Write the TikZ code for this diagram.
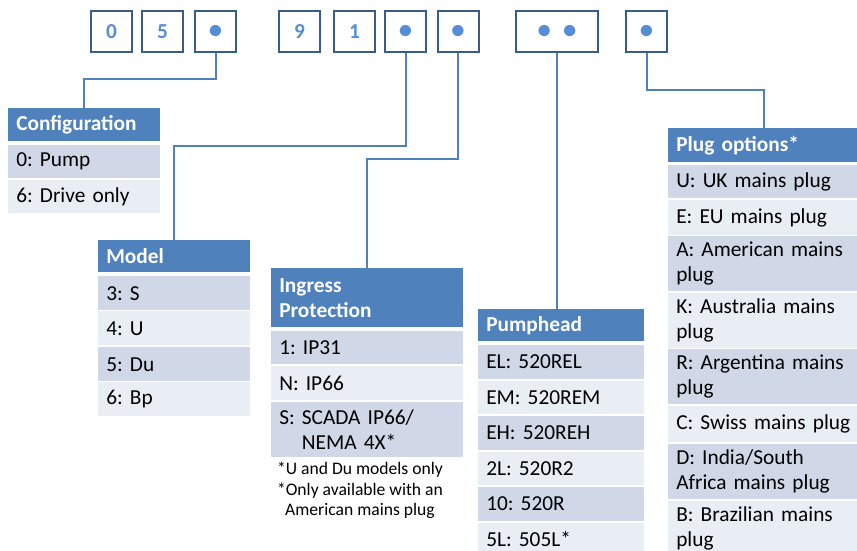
\documentclass[tikz,border=0pt]{standalone}
\usepackage{fontspec}
\setmainfont{Carlito}
\usetikzlibrary{calc,positioning}
\definecolor{boxblue}{HTML}{385D8A}
\definecolor{digitblue}{HTML}{558ED5}
\definecolor{lineblue}{HTML}{4F81BD}
\definecolor{headblue}{HTML}{4F81BD}
\definecolor{rowdark}{HTML}{D0D8E8}
\definecolor{rowlight}{HTML}{E9EDF4}
\newcommand{\punto}{{\fontsize{20}{20}\selectfont •}}
\frenchspacing

\begin{document}
\begin{tikzpicture}[x=0.75pt,y=-0.75pt,
	caja/.style={draw=boxblue,line width=1.5pt,minimum width=30.75pt,minimum height=30.75pt,inner sep=0pt,text height=10.3pt,text depth=0pt,text=digitblue,font=\bfseries\fontsize{16}{18}\selectfont},
	celda/.style 2 args={anchor=north west,inner xsep=6pt,inner ysep=0pt,text width=#1,minimum height=#2,align=left,font=\fontsize{16}{18.75}\selectfont},
	cabeza/.style={fill=headblue,text=white,font=\bfseries\fontsize{16}{18.75}\selectfont},
	oscura/.style={fill=rowdark},
	clara/.style={fill=rowlight},
	linea/.style={draw=lineblue,line width=1.5pt}]
	\useasboundingbox (0,0) rectangle (857,550);
	\clip (0,0) rectangle (857,550);
	\path
	(111.5,31.5) node(d1)[caja]{0}
	(162.5,31.5) node(d2)[caja]{5}
	(215.5,31.5) node(d3)[caja]{\punto}
	(299.5,31.5) node(d4)[caja]{9}
	(354.5,31.5) node(d5)[caja]{1}
	(405.5,31.5) node(d6)[caja]{\punto}
	(458,31.5) node(d7)[caja]{\punto}
	(557,31.5) node(d8)[caja,minimum width=61.5pt]{\punto\hspace{9pt}\punto}
	(646.5,31.5) node(d9)[caja]{\punto};
	\path
	(8,108) node(cfg)[celda={102pt}{24.75pt},cabeza]{Configuration}
	(8,145) node(cfg1)[celda={102pt}{24.75pt},oscura]{0: Pump}
	(8,180) node(cfg2)[celda={102pt}{24.75pt},clara]{6: Drive only};
	\path
	(98,240) node(mod)[celda={102pt}{24pt},cabeza]{Model}
	(98,276) node(mod1)[celda={102pt}{25.5pt},oscura]{3: S}
	(98,311) node(mod2)[celda={102pt}{25.5pt},clara]{4: U}
	(98,347) node(mod3)[celda={102pt}{25.5pt},oscura]{5: Du}
	(98,382) node(mod4)[celda={102pt}{25.5pt},clara]{6: Bp};
	\path
	(271,268) node(ing)[celda={132pt}{44.25pt},cabeza]{Ingress\\Protection}
	(271,331) node(ing1)[celda={132pt}{24.75pt},oscura]{1: IP31}
	(271,366) node(ing2)[celda={132pt}{25.5pt},clara]{N: IP66}
	(271,402) node(ing3)[celda={132pt}{41.25pt},oscura]{S: SCADA IP66/\\\hphantom{S: }NEMA 4X*}
	(360,462) node(nota)[anchor=north,align=center,inner sep=0pt,font=\fontsize{13.2}{15.2}\selectfont]{*U and Du models only\\*Only available with an\\American mains plug};
	\path
	(478,309) node(pmp)[celda={112.5pt}{24pt},cabeza]{Pumphead}
	(478,345) node(pmp1)[celda={112.5pt}{25.1pt},oscura]{EL: 520REL}
	(478,380.5) node(pmp2)[celda={112.5pt}{25.1pt},clara]{EM: 520REM}
	(478,416) node(pmp3)[celda={112.5pt}{25.1pt},oscura]{EH: 520REH}
	(478,451.5) node(pmp4)[celda={112.5pt}{25.1pt},clara]{2L: 520R2}
	(478,487) node(pmp5)[celda={112.5pt}{25.1pt},oscura]{10: 520R}
	(478,522.5) node(pmp6)[celda={112.5pt}{25.1pt},clara]{5L: 505L*};
	\path
	(668,128) node(plg)[celda={132pt}{25.5pt},cabeza]{Plug options*}
	(668,165) node(plg1)[celda={132pt}{24.75pt},oscura]{U: UK mains plug}
	(668,200) node(plg2)[celda={132pt}{26.25pt},clara]{E: EU mains plug}
	(668,236) node(plg3)[celda={132pt}{41.25pt},oscura]{A: American mains\\plug}
	(668,293) node(plg4)[celda={132pt}{41.25pt},clara]{K: Australia mains\\plug}
	(668,349) node(plg5)[celda={132pt}{41.25pt},oscura]{R: Argentina mains\\plug}
	(668,406) node(plg6)[celda={132pt}{27pt},clara]{C: Swiss mains plug}
	(668,444) node(plg7)[celda={132pt}{41.25pt},oscura]{D: India/South\\Africa mains plug}
	(668,501) node(plg8)[celda={132pt}{41.25pt},clara]{B: Brazilian mains\\plug};
	\coordinate (k1) at (0,79);
	\coordinate (k2) at (0,146);
	\coordinate (k3) at (0,159);
	\coordinate (k5) at (0,90);
	\draw[linea] (d3.south) -- (d3.south |- k1) -| (cfg.north);
	\draw[linea] (d6.south) -- (d6.south |- k2) -| (mod.north);
	\draw[linea] (d7.south) -- (d7.south |- k3) -| (ing.north);
	\draw[linea] (d8.south) -- (d8.south |- pmp.north);
	\draw[linea] (d9.south) -- (d9.south |- k5) -| (plg.north);
\end{tikzpicture}
\end{document}
